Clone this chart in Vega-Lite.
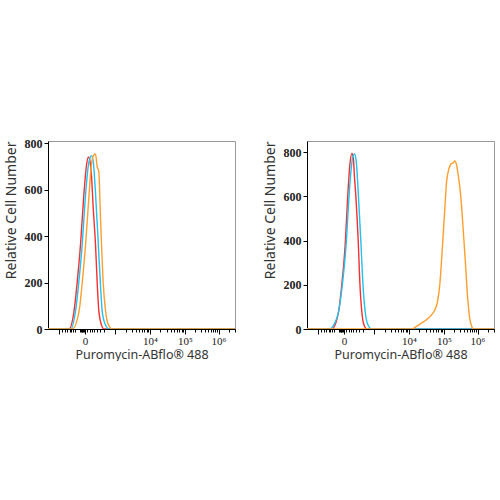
{
  "$schema": "https://vega.github.io/schema/vega-lite/v6.json",
  "background": "white",
  "padding": {"left": 3, "top": 136, "right": 0, "bottom": 0},
  "spacing": 26,
  "datasets": {
    "curves": [
      {"panel": "A", "s": "red", "u": 0, "c": 0},
      {"panel": "A", "s": "red", "u": 11.2, "c": 0},
      {"panel": "A", "s": "red", "u": 13.9, "c": 76},
      {"panel": "A", "s": "red", "u": 15.6, "c": 200},
      {"panel": "A", "s": "red", "u": 17.4, "c": 365},
      {"panel": "A", "s": "red", "u": 19.2, "c": 581},
      {"panel": "A", "s": "red", "u": 20.5, "c": 700},
      {"panel": "A", "s": "red", "u": 21.6, "c": 741},
      {"panel": "A", "s": "red", "u": 22.3, "c": 730},
      {"panel": "A", "s": "red", "u": 23.3, "c": 655},
      {"panel": "A", "s": "red", "u": 24.2, "c": 520},
      {"panel": "A", "s": "red", "u": 25.4, "c": 365},
      {"panel": "A", "s": "red", "u": 26.3, "c": 200},
      {"panel": "A", "s": "red", "u": 27.2, "c": 76},
      {"panel": "A", "s": "red", "u": 28.5, "c": 20},
      {"panel": "A", "s": "red", "u": 29.9, "c": 0},
      {"panel": "A", "s": "red", "u": 100, "c": 0},
      {"panel": "A", "s": "blue", "u": 0, "c": 0},
      {"panel": "A", "s": "blue", "u": 12.1, "c": 0},
      {"panel": "A", "s": "blue", "u": 14.7, "c": 76},
      {"panel": "A", "s": "blue", "u": 16.7, "c": 220},
      {"panel": "A", "s": "blue", "u": 18.3, "c": 365},
      {"panel": "A", "s": "blue", "u": 19.9, "c": 560},
      {"panel": "A", "s": "blue", "u": 21.5, "c": 700},
      {"panel": "A", "s": "blue", "u": 22.6, "c": 740},
      {"panel": "A", "s": "blue", "u": 23.3, "c": 747},
      {"panel": "A", "s": "blue", "u": 24.2, "c": 720},
      {"panel": "A", "s": "blue", "u": 25.3, "c": 600},
      {"panel": "A", "s": "blue", "u": 26.9, "c": 365},
      {"panel": "A", "s": "blue", "u": 28, "c": 200},
      {"panel": "A", "s": "blue", "u": 29, "c": 76},
      {"panel": "A", "s": "blue", "u": 30.6, "c": 20},
      {"panel": "A", "s": "blue", "u": 32.6, "c": 0},
      {"panel": "A", "s": "blue", "u": 100, "c": 0},
      {"panel": "A", "s": "orange", "u": 0, "c": 0},
      {"panel": "A", "s": "orange", "u": 13, "c": 0},
      {"panel": "A", "s": "orange", "u": 16.6, "c": 76},
      {"panel": "A", "s": "orange", "u": 18.3, "c": 200},
      {"panel": "A", "s": "orange", "u": 20.1, "c": 365},
      {"panel": "A", "s": "orange", "u": 21.8, "c": 560},
      {"panel": "A", "s": "orange", "u": 23.1, "c": 700},
      {"panel": "A", "s": "orange", "u": 24.2, "c": 745},
      {"panel": "A", "s": "orange", "u": 25.4, "c": 754},
      {"panel": "A", "s": "orange", "u": 26.3, "c": 700},
      {"panel": "A", "s": "orange", "u": 27.2, "c": 676},
      {"panel": "A", "s": "orange", "u": 27.9, "c": 520},
      {"panel": "A", "s": "orange", "u": 28.6, "c": 365},
      {"panel": "A", "s": "orange", "u": 29.5, "c": 200},
      {"panel": "A", "s": "orange", "u": 30.8, "c": 76},
      {"panel": "A", "s": "orange", "u": 32.2, "c": 20},
      {"panel": "A", "s": "orange", "u": 34.3, "c": 0},
      {"panel": "A", "s": "orange", "u": 100, "c": 0},
      {"panel": "B", "s": "red", "u": 0, "c": 0},
      {"panel": "B", "s": "red", "u": 13.3, "c": 0},
      {"panel": "B", "s": "red", "u": 16.9, "c": 79},
      {"panel": "B", "s": "red", "u": 18.6, "c": 200},
      {"panel": "B", "s": "red", "u": 20.4, "c": 378},
      {"panel": "B", "s": "red", "u": 21.8, "c": 603},
      {"panel": "B", "s": "red", "u": 22.9, "c": 740},
      {"panel": "B", "s": "red", "u": 24, "c": 794},
      {"panel": "B", "s": "red", "u": 24.8, "c": 770},
      {"panel": "B", "s": "red", "u": 25.3, "c": 700},
      {"panel": "B", "s": "red", "u": 26.1, "c": 603},
      {"panel": "B", "s": "red", "u": 27.5, "c": 378},
      {"panel": "B", "s": "red", "u": 28.2, "c": 220},
      {"panel": "B", "s": "red", "u": 29.3, "c": 79},
      {"panel": "B", "s": "red", "u": 30.4, "c": 20},
      {"panel": "B", "s": "red", "u": 32, "c": 0},
      {"panel": "B", "s": "red", "u": 100, "c": 0},
      {"panel": "B", "s": "blue", "u": 0, "c": 0},
      {"panel": "B", "s": "blue", "u": 12.4, "c": 0},
      {"panel": "B", "s": "blue", "u": 14.4, "c": 20},
      {"panel": "B", "s": "blue", "u": 16.9, "c": 79},
      {"panel": "B", "s": "blue", "u": 18.9, "c": 200},
      {"panel": "B", "s": "blue", "u": 20.9, "c": 378},
      {"panel": "B", "s": "blue", "u": 22.5, "c": 603},
      {"panel": "B", "s": "blue", "u": 23.7, "c": 730},
      {"panel": "B", "s": "blue", "u": 24.5, "c": 780},
      {"panel": "B", "s": "blue", "u": 25.4, "c": 791},
      {"panel": "B", "s": "blue", "u": 26.3, "c": 760},
      {"panel": "B", "s": "blue", "u": 27.5, "c": 603},
      {"panel": "B", "s": "blue", "u": 28.9, "c": 378},
      {"panel": "B", "s": "blue", "u": 29.8, "c": 220},
      {"panel": "B", "s": "blue", "u": 31.1, "c": 79},
      {"panel": "B", "s": "blue", "u": 32.5, "c": 20},
      {"panel": "B", "s": "blue", "u": 34.6, "c": 0},
      {"panel": "B", "s": "blue", "u": 100, "c": 0},
      {"panel": "B", "s": "orange", "u": 0, "c": 0},
      {"panel": "B", "s": "orange", "u": 55.9, "c": 0},
      {"panel": "B", "s": "orange", "u": 58.6, "c": 12},
      {"panel": "B", "s": "orange", "u": 61.3, "c": 27},
      {"panel": "B", "s": "orange", "u": 63.9, "c": 42},
      {"panel": "B", "s": "orange", "u": 66.6, "c": 64},
      {"panel": "B", "s": "orange", "u": 68.4, "c": 87},
      {"panel": "B", "s": "orange", "u": 69.8, "c": 124},
      {"panel": "B", "s": "orange", "u": 71, "c": 199},
      {"panel": "B", "s": "orange", "u": 71.9, "c": 303},
      {"panel": "B", "s": "orange", "u": 72.8, "c": 423},
      {"panel": "B", "s": "orange", "u": 73.7, "c": 543},
      {"panel": "B", "s": "orange", "u": 74.6, "c": 662},
      {"panel": "B", "s": "orange", "u": 75.8, "c": 722},
      {"panel": "B", "s": "orange", "u": 76.9, "c": 745},
      {"panel": "B", "s": "orange", "u": 78.2, "c": 752},
      {"panel": "B", "s": "orange", "u": 79, "c": 760},
      {"panel": "B", "s": "orange", "u": 79.9, "c": 745},
      {"panel": "B", "s": "orange", "u": 80.8, "c": 700},
      {"panel": "B", "s": "orange", "u": 82.2, "c": 603},
      {"panel": "B", "s": "orange", "u": 83.5, "c": 453},
      {"panel": "B", "s": "orange", "u": 84.7, "c": 303},
      {"panel": "B", "s": "orange", "u": 85.8, "c": 154},
      {"panel": "B", "s": "orange", "u": 87, "c": 49},
      {"panel": "B", "s": "orange", "u": 88.3, "c": 7},
      {"panel": "B", "s": "orange", "u": 88.8, "c": 0},
      {"panel": "B", "s": "orange", "u": 100, "c": 0}
    ]
  },
  "config": {
    "view": {"stroke": "#999999", "strokeWidth": 1},
    "axis": {
      "domainColor": "#000000",
      "domainWidth": 1,
      "tickColor": "#000000",
      "grid": false,
      "labelFont": "Liberation Serif",
      "labelFontWeight": "bold",
      "labelFontSize": 12,
      "labelColor": "#222222",
      "titleFont": "Noto Sans",
      "titleFontWeight": "normal",
      "titleFontSize": 12.5,
      "titleColor": "#333333"
    }
  },
  "hconcat": [
    {
      "width": 187,
      "height": 188,
      "data": {"name": "curves"},
      "transform": [{"filter": "datum.panel === 'A'"}],
      "mark": {"type": "line", "strokeWidth": 1.4, "interpolate": "monotone", "clip": true},
      "encoding": {
        "x": {
          "field": "u", "type": "quantitative",
          "scale": {"domain": [0, 100], "nice": false, "zero": false},
          "axis": {
            "title": "Puromycin-ABflo® 488",
            "titlePadding": 2,
            "values": [6, 7.6, 9, 10.4, 11.5, 12.5, 13.4, 14.2, 17.2, 17.6, 18, 18.4, 18.8, 19.2, 19.8, 21, 22.2, 23.5, 24.8, 26.2, 27.6, 29.9, 36, 41.6, 44.8, 47.1, 48.9, 50.4, 51.6, 52.7, 53.6, 54.5, 60.1, 63.4, 65.8, 67.6, 69, 70.3, 71.4, 72.3, 73.2, 78.6, 81.8, 84, 85.8, 87.2, 88.4, 89.5, 90.4, 91.2, 96.7, 99.9],
            "labelExpr": "datum.value == 19.8 ? '0' : datum.value == 54.5 ? '10⁴' : datum.value == 73.2 ? '10⁵' : datum.value == 91.2 ? '10⁶' : ''",
            "tickSize": {"condition": {"test": "datum.value == 19.8 || datum.value == 36 || datum.value == 54.5 || datum.value == 73.2 || datum.value == 91.2 || datum.value == 6", "value": 5}, "value": 3},
            "labelPadding": 1,
            "labelOverlap": false,
            "labelFontWeight": "normal",
            "labelFontSize": 11
          }
        },
        "y": {
          "field": "c", "type": "quantitative",
          "scale": {"domain": [0, 810], "nice": false},
          "axis": {"title": "Relative Cell Number", "titleFontSize": 14, "values": [0, 200, 400, 600, 800], "tickSize": 4, "titleAnchor": "end", "titlePadding": 6}
        },
        "color": {
          "field": "s", "type": "nominal", "legend": null,
          "scale": {"domain": ["red", "blue", "orange"], "range": ["#ff2d2d", "#1ec3f0", "#ff9e2c"]}
        }
      }
    },
    {
      "width": 187,
      "height": 188,
      "data": {"name": "curves"},
      "transform": [{"filter": "datum.panel === 'B'"}],
      "mark": {"type": "line", "strokeWidth": 1.4, "interpolate": "monotone", "clip": true},
      "encoding": {
        "x": {
          "field": "u", "type": "quantitative",
          "scale": {"domain": [0, 100], "nice": false, "zero": false},
          "axis": {
            "title": "Puromycin-ABflo® 488",
            "titlePadding": 2,
            "values": [6, 7.6, 9, 10.4, 11.5, 12.5, 13.4, 14.2, 17.2, 17.6, 18, 18.4, 18.8, 19.2, 19.8, 21, 22.2, 23.5, 24.8, 26.2, 27.6, 29.9, 36, 41.6, 44.8, 47.1, 48.9, 50.4, 51.6, 52.7, 53.6, 54.5, 60.1, 63.4, 65.8, 67.6, 69, 70.3, 71.4, 72.3, 73.2, 78.6, 81.8, 84, 85.8, 87.2, 88.4, 89.5, 90.4, 91.2, 96.7, 99.9],
            "labelExpr": "datum.value == 19.8 ? '0' : datum.value == 54.5 ? '10⁴' : datum.value == 73.2 ? '10⁵' : datum.value == 91.2 ? '10⁶' : ''",
            "tickSize": {"condition": {"test": "datum.value == 19.8 || datum.value == 36 || datum.value == 54.5 || datum.value == 73.2 || datum.value == 91.2 || datum.value == 6", "value": 5}, "value": 3},
            "labelPadding": 1,
            "labelOverlap": false,
            "labelFontWeight": "normal",
            "labelFontSize": 11
          }
        },
        "y": {
          "field": "c", "type": "quantitative",
          "scale": {"domain": [0, 850], "nice": false},
          "axis": {"title": "Relative Cell Number", "titleFontSize": 14, "values": [0, 200, 400, 600, 800], "tickSize": 4, "titleAnchor": "end", "titlePadding": 6}
        },
        "color": {
          "field": "s", "type": "nominal", "legend": null,
          "scale": {"domain": ["red", "blue", "orange"], "range": ["#ff2d2d", "#1ec3f0", "#ff9e2c"]}
        }
      }
    }
  ]
}
